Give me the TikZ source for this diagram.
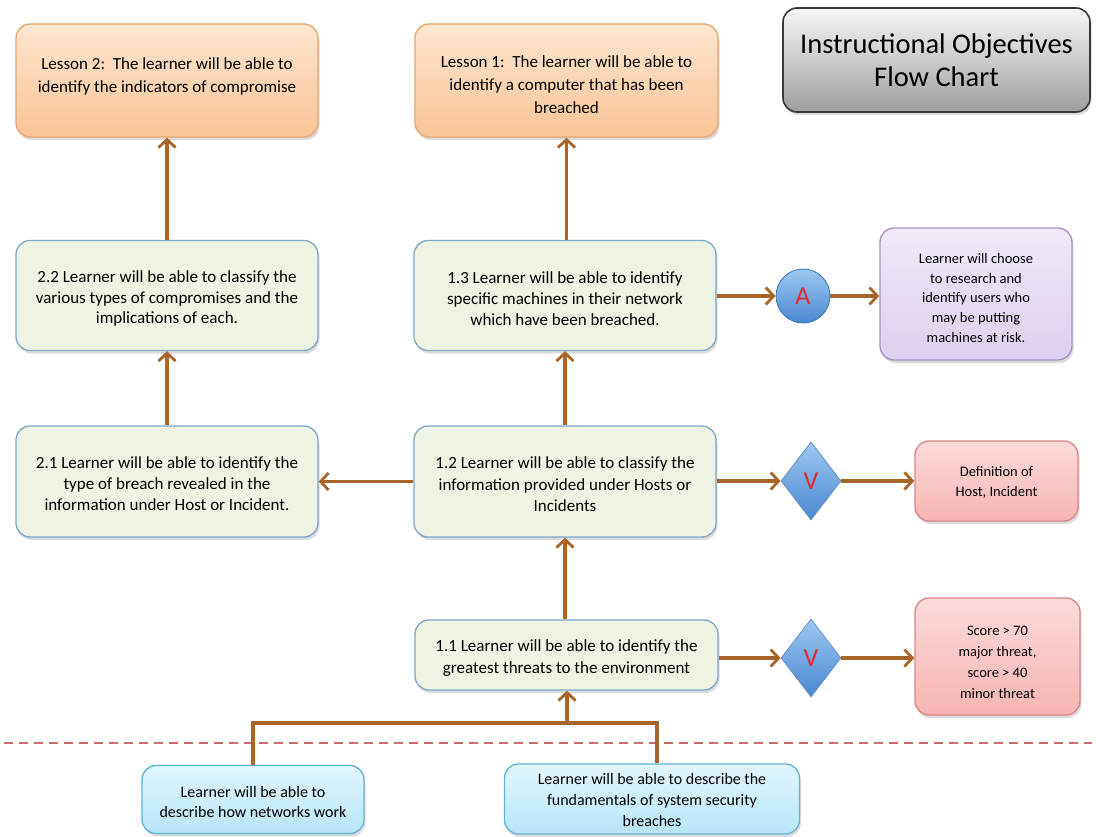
\documentclass[tikz,border=0pt]{standalone}
\usepackage{fontspec}
\setmainfont{Carlito}
\usetikzlibrary{shapes.geometric,arrows.meta,shadows}
\definecolor{arr}{HTML}{A8652A}
\definecolor{orB}{HTML}{E9A56A}
\definecolor{orT}{HTML}{FDE6D0}
\definecolor{orM}{HTML}{F9C494}
\definecolor{grF}{HTML}{EEF3E4}
\definecolor{grB}{HTML}{7FA6C8}
\definecolor{puT}{HTML}{F1EAF8}
\definecolor{puM}{HTML}{DDCFEE}
\definecolor{puB}{HTML}{A58FC6}
\definecolor{pkT}{HTML}{FCDADA}
\definecolor{pkM}{HTML}{F6B4B4}
\definecolor{pkB}{HTML}{D98686}
\definecolor{blT}{HTML}{E2F6FD}
\definecolor{blM}{HTML}{B6E6F8}
\definecolor{blB}{HTML}{62B2D6}
\definecolor{dsh}{HTML}{C86A6A}
\definecolor{shT}{HTML}{9CC8F0}
\definecolor{shM}{HTML}{4A88D2}
\definecolor{shB}{HTML}{3C74B8}
\definecolor{redt}{HTML}{E8262E}
\tikzset{
  box/.style={rounded corners=14pt, line width=1.3pt, inner sep=2pt,
    drop shadow={opacity=0.28, shadow xshift=1.5pt, shadow yshift=-3pt}},
  tx/.style={align=center, inner sep=0pt, font=\fontsize{17}{#1}\selectfont},
  tx/.default=20.8,
  ts/.style={align=center, inner sep=0pt, font=\fontsize{14.5}{#1}\selectfont},
  ts/.default=20.5,
  tb/.style={align=center, inner sep=0pt, font=\fontsize{16}{20.8}\selectfont},
  lesson/.style={box, draw=orB, top color=orT, bottom color=orM},
  objbox/.style={box, draw=grB, fill=grF},
  purbox/.style={box, draw=puB, top color=puT, bottom color=puM},
  pinkbox/.style={box, draw=pkB, top color=pkT, bottom color=pkM},
  prebox/.style={box, draw=blB, top color=blT, bottom color=blM},
  titlebox/.style={rounded corners=14pt, line width=1.6pt, draw=black!78, top color=black!3, bottom color=black!38,
    align=center, drop shadow={opacity=0.28, shadow xshift=1.5pt, shadow yshift=-3pt},
    font=\fontsize{28.5}{33}\selectfont},
  chk/.style={diamond, draw=shB!80, line width=0.8pt, top color=shT, bottom color=shM, inner sep=0pt,
    minimum width=60pt, minimum height=78pt, text=redt, font=\fontsize{26}{26}\selectfont},
  act/.style={circle, draw=shB, line width=0.8pt, top color=shT, bottom color=shM, inner sep=0pt,
    minimum size=54pt, text=redt, font=\fontsize{26}{26}\selectfont},
  link/.style={draw=arr, line width=3.2pt, -{Straight Barb[length=8pt,width=17pt,line width=2.8pt]}},
  plain/.style={draw=arr, line width=3.2pt}
}
\begin{document}
\begin{tikzpicture}[x=1pt,y=-1pt]
\useasboundingbox (0,0) rectangle (1096,837);
\fill[white] (0,0) rectangle (1096,837);

\node[lesson, minimum width=302pt, minimum height=113pt,
  label={[tx=23, yshift=4pt]center:{Lesson 2:\ \ The learner will be able to\\identify the indicators of compromise}}] (L2) at (167,80.5) {};
\node[lesson, minimum width=303pt, minimum height=113pt,
  label={[tx=23, yshift=-4pt]center:{Lesson 1:\ \ The learner will be able to\\identify a computer that has been\\breached}}] (L1) at (566.5,80.5) {};
\node[titlebox, minimum width=307pt, minimum height=104pt] (T) at (936.5,60)
  {Instructional Objectives\\Flow Chart};

\node[objbox, minimum width=302pt, minimum height=110pt,
  label={[tx, yshift=-3pt]center:{2.2 Learner will be able to classify the\\various types of compromises and the\\implications of each.}}] (o22) at (167,295.5) {};
\node[objbox, minimum width=302pt, minimum height=110pt,
  label={[tx, yshift=-3pt]center:{1.3 Learner will be able to identify\\specific machines in their network\\which have been breached.}}] (o13) at (565,295.5) {};
\node[act] (A) at (803,296) {A};
\node[purbox, minimum width=192pt, minimum height=132pt,
  label={[ts=19.6, yshift=-4pt]center:{Learner will choose\\to research and\\identify users who\\may be putting\\machines at risk.}}] (P) at (976,294) {};

\node[objbox, minimum width=302pt, minimum height=111pt,
  label={[tx, yshift=-2pt]center:{2.1 Learner will be able to identify the\\type of breach revealed in the\\information under Host or Incident.}}] (o21) at (167,481.5) {};
\node[objbox, minimum width=302pt, minimum height=111pt,
  label={[tx=21.5, yshift=-3pt]center:{1.2 Learner will be able to classify the\\information provided under Hosts or\\Incidents}}] (o12) at (565,481.5) {};
\node[chk] (V1) at (811,481) {V};
\node[pinkbox, minimum width=163pt, minimum height=80pt,
  label={[ts=20, yshift=-1.5pt]center:{Definition of\\Host, Incident}}] (D) at (996.5,481) {};

\node[objbox, minimum width=303pt, minimum height=70pt,
  label={[tx=22.5, yshift=-3pt]center:{1.1 Learner will be able to identify the\\greatest threats to the environment}}] (o11) at (566.5,655) {};
\node[chk] (V2) at (811,658) {V};
\node[pinkbox, minimum width=165pt, minimum height=117pt,
  label={[ts=21, yshift=-6pt]center:{Score > 70\\major threat,\\score > 40\\minor threat}}] (S) at (997.5,656.5) {};

\draw[dsh, line width=2pt, dash pattern=on 9pt off 6pt] (4,743) -- (1092,743);

\node[prebox, minimum width=222pt, minimum height=68pt,
  label={[tb, yshift=-2.5pt]center:{Learner will be able to\\describe how networks work}}] (B1) at (253,799.5) {};
\node[prebox, minimum width=295pt, minimum height=70pt,
  label={[tb, yshift=-1pt]center:{Learner will be able to describe the\\fundamentals of system security\\breaches}}] (B2) at (652,799) {};

% connectors
\draw[link] (o22.north) -- (L2.south);
\draw[link] (o21.north) -- (o22.south);
\draw[link] (o12.west) -- (o21.east);
\draw[link] (o12.north) -- (o13.south);
\draw[link] (o13.north -| L1.south) -- (L1.south);
\draw[link] (o11.north -| o12.south) -- (o12.south);
\draw[link] (o13.east |- A.west) -- (A.west);
\draw[link] (A.east) -- (P.west |- A.east);
\draw[link] (o12.east |- V1.west) -- (V1.west);
\draw[link] (V1.east) -- (D.west |- V1.east);
\draw[link] (o11.east |- V2.west) -- (V2.west);
\draw[link] (V2.east) -- (S.west |- V2.east);
\coordinate (j1) at (253,723);
\coordinate (j2) at (657,723);
\coordinate (jm) at (567,723);
\draw[plain] (B1.north) -- (j1) -- (j2) -- (B2.north -| j2);
\draw[link] (jm) -- (o11.south -| jm);
\end{tikzpicture}
\end{document}
